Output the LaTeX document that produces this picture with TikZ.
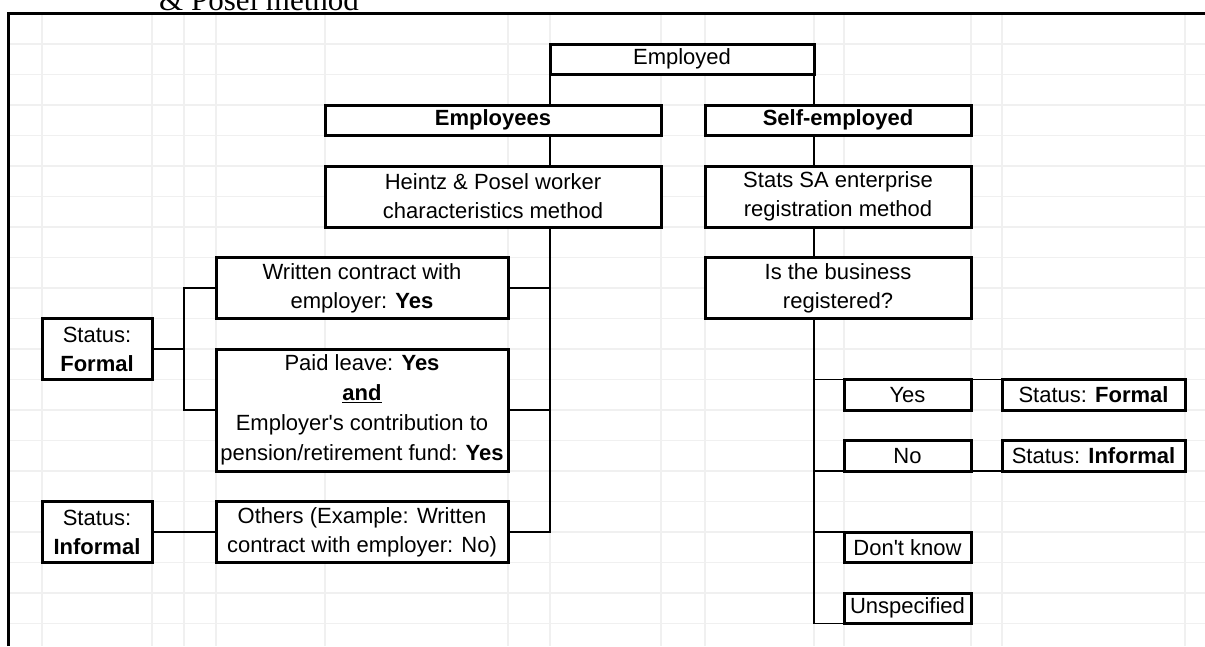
\documentclass[tikz,border=0pt]{standalone}
\usepackage{fontspec}
\setmainfont{Liberation Sans}
\newfontfamily\docserif{Liberation Serif}
\begin{document}
\begin{tikzpicture}[x=1pt,y=-1pt,
  cellbox/.style={draw,line width=3pt,fill=white,inner sep=0pt,outer sep=0pt,align=center,font=\fontsize{22}{29}\selectfont},
  link/.style={line width=1.4pt},
  gridline/.style={line width=1.3pt,black!6}]
\useasboundingbox (0,0) rectangle (1205,646);
\foreach \x in {42,152,184,216,325,508,550,661,705,814,844,971,1002,1185}
  \draw[gridline] (\x,13) -- (\x,646);
\foreach \k in {0,...,19}
  \draw[gridline] (8,{44+30.5*\k}) -- (1205,{44+30.5*\k});
\draw[line width=3pt] (8,646) -- (8,13) -- (1205,13);
\node[anchor=base west,inner sep=0pt,font=\docserif\fontsize{31}{31}\selectfont] (caption) at (159,10) {\& Posel method};
\node[cellbox,minimum width=264pt,minimum height=30.5pt] (employed) at (682,59.25) {Employed};
\node[cellbox,minimum width=336pt,minimum height=30.5pt] (employees) at (493,120.25) {\textbf{Employees}};
\node[cellbox,minimum width=266pt,minimum height=30.5pt] (selfemp) at (838,120.25) {\textbf{Self-employed}};
\node[cellbox,minimum width=336pt,minimum height=61pt] (heintz) at (493,196.5) {Heintz \& Posel worker\\characteristics method};
\node[cellbox,minimum width=266pt,minimum height=61pt] (statssa) at (838,196.5) {Stats SA enterprise\\registration method};
\node[cellbox,minimum width=292pt,minimum height=61pt] (written) at (362,288) {Written contract with\\employer: \textbf{Yes}};
\node[cellbox,minimum width=266pt,minimum height=61pt] (isreg) at (838,288) {Is the business\\registered?};
\node[cellbox,minimum width=110pt,minimum height=61pt] (formalL) at (97,349) {Status:\\\textbf{Formal}};
\node[cellbox,minimum width=292pt,minimum height=122pt,font=\fontsize{22}{30}\selectfont] (paid) at (362,410) {Paid leave: \textbf{Yes}\\\textbf{\underline{and}}\\Employer\textquotesingle s contribution to\\pension/retirement fund: \textbf{Yes}};
\node[cellbox,minimum width=292pt,minimum height=61pt] (others) at (362,532) {Others (Example: Written\\contract with employer: No)};
\node[cellbox,minimum width=110pt,minimum height=61pt] (informalL) at (97,532) {Status:\\\textbf{Informal}};
\node[cellbox,minimum width=127pt,minimum height=30.5pt] (yes) at (907.5,394.75) {Yes};
\node[cellbox,minimum width=183pt,minimum height=30.5pt] (formalR) at (1093.5,394.75) {Status: \textbf{Formal}};
\node[cellbox,minimum width=127pt,minimum height=30.5pt] (no) at (907.5,455.75) {No};
\node[cellbox,minimum width=183pt,minimum height=30.5pt] (informalR) at (1093.5,455.75) {Status: \textbf{Informal}};
\node[cellbox,minimum width=127pt,minimum height=30.5pt] (dk) at (907.5,547.25) {Don\textquotesingle t know};
\node[cellbox,minimum width=127pt,minimum height=30.5pt] (unspec) at (907.5,608.25) {Unspecified};
\coordinate (fork) at (184,349);
\draw[link] (employed.south west) -- (employed.south west |- employees.north);
\draw[link] (employees.south -| employed.south west) -- (heintz.north -| employed.south west);
\draw[link] (heintz.south -| employed.south west) |- (others.east);
\draw[link] (written.east) -- (written.east -| employed.south west);
\draw[link] (paid.east) -- (paid.east -| employed.south west);
\draw[link] (formalL.east) -- (fork);
\draw[link] (written.west) -| (fork) |- (paid.west);
\draw[link] (informalL.east) -- (others.west);
\draw[link] (employed.south east) -- (employed.south east |- selfemp.north);
\draw[link] (selfemp.south -| employed.south east) -- (statssa.north -| employed.south east);
\draw[link] (statssa.south -| employed.south east) -- (isreg.north -| employed.south east);
\draw[link] (isreg.south -| employed.south east) |- (unspec.south west);
\draw[link] (yes.north west -| employed.south east) -- (formalR.north west);
\draw[link] (no.south west -| employed.south east) -- (informalR.south west);
\draw[link] (dk.north west -| employed.south east) -- (dk.north west);
\end{tikzpicture}
\end{document}
